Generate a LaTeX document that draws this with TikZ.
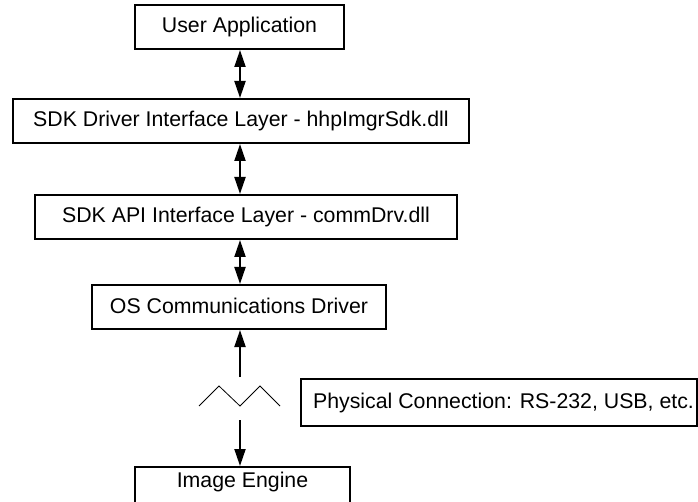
\documentclass[tikz,border=0pt]{standalone}
\usepackage{fontspec}
\setmainfont{Liberation Sans}
\usetikzlibrary{arrows.meta}
\begin{document}
\begin{tikzpicture}[x=1pt,y=-1pt,
  box/.style={draw=black, line width=2pt, inner sep=0pt, minimum height=44pt,
    font=\fontsize{21.3}{25}\selectfont, anchor=center},
  dbl/.style={line width=2pt, {Triangle[length=17pt,width=11pt]}-{Triangle[length=17pt,width=11pt]}},
  one/.style={line width=2pt, -{Triangle[length=17pt,width=11pt]}},
  zig/.style={line width=0.8pt}]
\useasboundingbox (0,0) rectangle (698,502);
\begin{scope}
\clip (0,0) rectangle (698,502);
\node[box, minimum width=209pt] (ua) at (239.5,27) {\raisebox{1.5pt}{User Application}};
\node[box, minimum width=456pt] (sdk) at (241,121) {\raisebox{1.5pt}{SDK Driver Interface Layer - hhpImgrSdk.dll}};
\node[box, minimum width=422pt] (api) at (246,217) {\raisebox{1.5pt}{SDK API Interface Layer - commDrv.dll}};
\node[box, minimum width=294pt] (os) at (239,307) {\raisebox{1.5pt}{OS Communications Driver}};
\node[box, minimum width=396pt, minimum height=47pt] (phys) at (499,402.5) {\raisebox{1.5pt}{\hspace*{9pt}Physical Connection: RS-232, USB, etc.}};
\node[box, minimum width=215pt, anchor=north, text depth=30pt, inner ysep=5pt] (ie) at (242.5,466) {Image Engine};
\coordinate (ax) at (240,0);
\coordinate (up) at (240,377);
\coordinate (dn) at (240,420);
\coordinate (z1) at (199,406);
\coordinate (z2) at (219,386);
\coordinate (z3) at (240,406);
\coordinate (z4) at (260,386);
\coordinate (z5) at (280,406);
\draw[dbl] (ua.south -| ax) -- (sdk.north -| ax);
\draw[dbl] (sdk.south -| ax) -- (api.north -| ax);
\draw[dbl] (api.south -| ax) -- (os.north -| ax);
\draw[one] (up) -- (os.south -| ax);
\draw[one] (dn) -- (ie.north -| ax);
\draw[zig] (z1) -- (z2) -- (z3) -- (z4) -- (z5);
\end{scope}
\end{tikzpicture}
\end{document}
